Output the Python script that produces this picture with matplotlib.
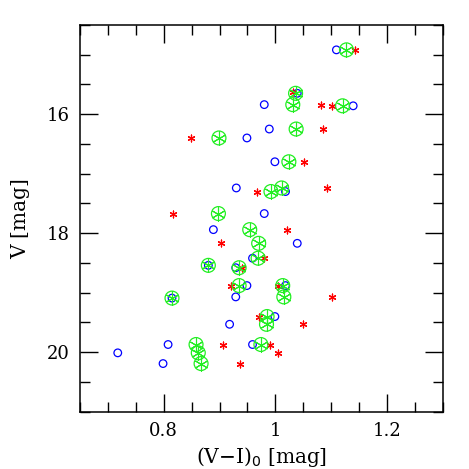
import matplotlib.pyplot as plt
from matplotlib.ticker import MultipleLocator

# -------------------- DATA --------------------
# blue open circles
blue_vi = [1.109, 1.039, 0.980, 1.139, 0.989, 0.949, 0.999, 0.930, 1.018, 0.980,
           0.889, 1.039, 0.959, 0.880, 0.929, 0.949, 1.018, 0.929, 0.815, 0.999,
           0.918, 0.808, 0.959, 0.718, 0.799]
blue_v = [14.92, 15.65, 15.84, 15.86, 16.25, 16.40, 16.80, 17.24, 17.30, 17.67,
          17.94, 18.17, 18.42, 18.54, 18.58, 18.88, 18.88, 19.07, 19.09, 19.40,
          19.53, 19.87, 19.87, 20.01, 20.19]

# red asterisks
red_vi = [1.143, 1.032, 1.082, 1.101, 1.085, 0.849, 1.051, 1.092, 0.967, 0.816,
          1.021, 0.902, 0.979, 0.940, 0.920, 1.005, 1.102, 0.970, 1.049, 0.907,
          0.991, 1.005, 0.936]
red_v = [14.92, 15.63, 15.84, 15.86, 16.25, 16.40, 16.80, 17.24, 17.30, 17.67,
         17.94, 18.17, 18.42, 18.58, 18.88, 18.88, 19.07, 19.40, 19.53, 19.87,
         19.87, 20.01, 20.19]

# green circled asterisks
green_vi = [1.127, 1.036, 1.031, 1.120, 1.037, 0.899, 1.024, 1.011, 0.992, 0.898,
            0.954, 0.970, 0.969, 0.880, 0.935, 0.935, 1.013, 1.015, 0.815, 0.985,
            0.984, 0.858, 0.974, 0.862, 0.867]
green_v = [14.92, 15.65, 15.84, 15.86, 16.25, 16.40, 16.80, 17.24, 17.30, 17.67,
           17.94, 18.17, 18.42, 18.54, 18.58, 18.88, 18.88, 19.07, 19.09, 19.40,
           19.53, 19.87, 19.87, 20.01, 20.19]

# -------------------- PLOT --------------------
plt.rcParams['font.family'] = ['DejaVu Serif']

fig = plt.figure(figsize=(4.69, 4.69), dpi=100)
ax = fig.add_axes([0.170, 0.122, 0.775, 0.825])

ax.scatter(blue_vi, blue_v, s=30, facecolors='none', edgecolors='blue', linewidths=0.9, zorder=2)
ax.scatter(red_vi, red_v, s=24, marker=(6, 2, 0), color='red', linewidths=0.9, zorder=3)
ax.scatter(green_vi, green_v, s=100, facecolors='none', edgecolors='#22ee22', linewidths=0.9, zorder=4)
ax.scatter(green_vi, green_v, s=90, marker=(6, 2, 0), color='#22ee22', linewidths=0.8, zorder=4)

ax.set_xlim(0.65, 1.3)
ax.set_ylim(21, 14.5)
ax.xaxis.set_major_locator(MultipleLocator(0.2))
ax.xaxis.set_minor_locator(MultipleLocator(0.05))
ax.yaxis.set_major_locator(MultipleLocator(2))
ax.yaxis.set_minor_locator(MultipleLocator(0.5))
ax.set_xticks([0.8, 1.0, 1.2])
ax.set_xticklabels(['0.8', '1', '1.2'])

ax.tick_params(which='both', direction='in', top=True, right=True, labelsize=13, width=1.0, pad=7)
ax.tick_params(which='major', length=13)
ax.tick_params(which='minor', length=7)
for sp in ax.spines.values():
    sp.set_linewidth(1.1)

ax.set_xlabel(r'(V$-$I)$_0$ [mag]', fontsize=14.5, labelpad=4)
ax.set_ylabel('V [mag]', fontsize=14.5, labelpad=12)

plt.savefig('out.png', dpi=100)
